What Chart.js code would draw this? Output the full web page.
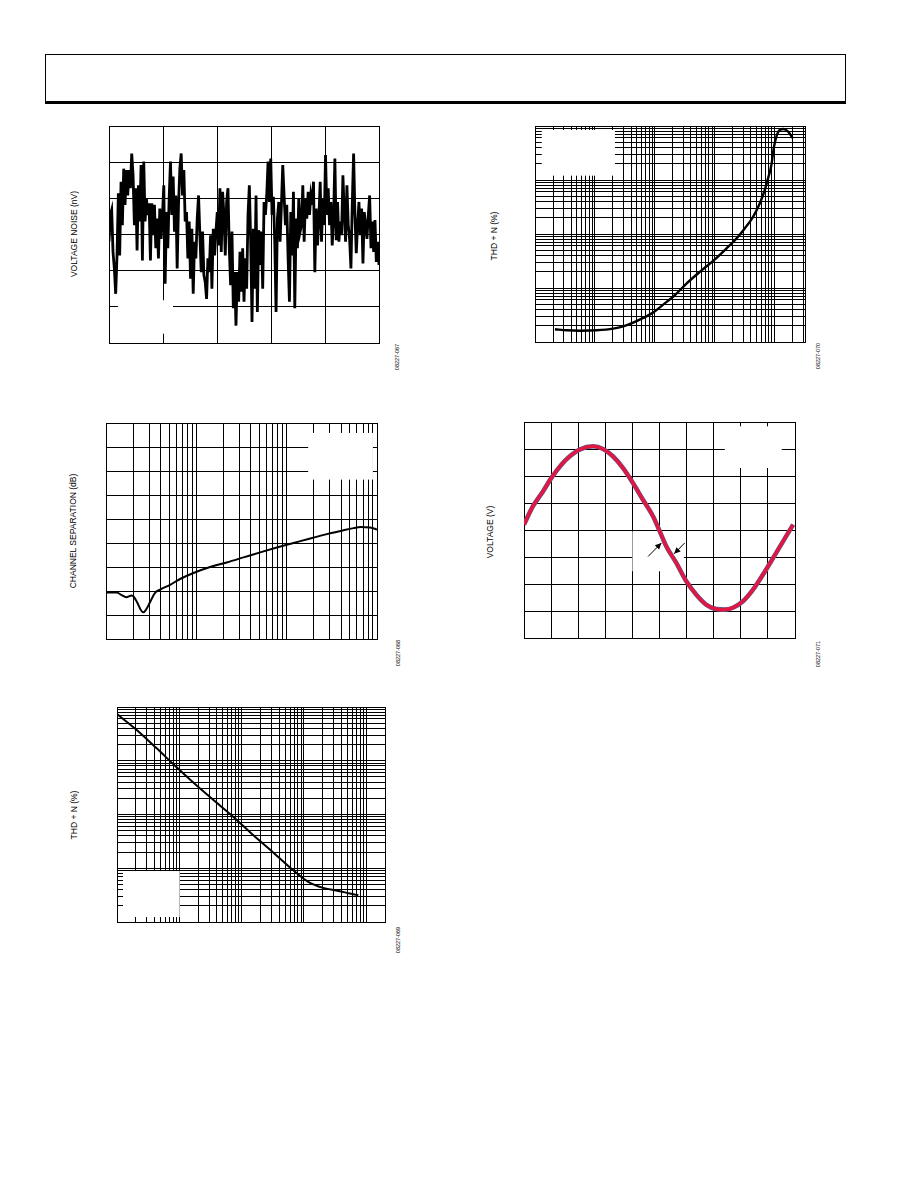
<!DOCTYPE html>
<html>
<head>
<meta charset="utf-8">
<script src="https://cdn.jsdelivr.net/npm/chart.js@4.4.0/dist/chart.umd.min.js"></script>
<style>
  body { margin:0; background:#fff; width:918px; height:1188px; position:relative; overflow:hidden;
         font-family:"Liberation Sans", Arial, sans-serif; color:#000; }
  .hdr { position:absolute; left:45px; top:54px; width:799px; height:46px; border:1px solid #000; border-bottom:3px solid #000; }
  .plot { position:absolute; }
  .ylab { position:absolute; font-size:8.5px; white-space:nowrap; transform:translate(-50%,-50%) rotate(-90deg); }
  .fid { position:absolute; font-size:5.5px; white-space:nowrap; transform:translate(-50%,-50%) rotate(-90deg); }
</style>
</head>
<body>
<div class="hdr"></div>

<canvas id="c1" class="plot"></canvas>
<canvas id="c2" class="plot"></canvas>
<canvas id="c3" class="plot"></canvas>
<canvas id="c4" class="plot"></canvas>
<canvas id="c5" class="plot"></canvas>

<div class="ylab" style="left:74px;top:234px">VOLTAGE NOISE (nV)</div>
<div class="ylab" style="left:494px;top:236px">THD + N (%)</div>
<div class="ylab" style="left:73px;top:531px">CHANNEL SEPARATION (dB)</div>
<div class="ylab" style="left:490px;top:532px">VOLTAGE (V)</div>
<div class="ylab" style="left:74px;top:815px">THD + N (%)</div>

<div class="fid" style="left:397px;top:357px">08227-067</div>
<div class="fid" style="left:818px;top:356px">08227-070</div>
<div class="fid" style="left:398px;top:653px">08227-068</div>
<div class="fid" style="left:818px;top:654px">08227-071</div>
<div class="fid" style="left:398px;top:940px">08227-069</div>

<script>
// ---- data ----

// 0.1 Hz to 10 Hz voltage noise, 10 s trace (nV)
const noiseNv = [-10,27,34,-24,-47,-82,-29,57,-29,73,13,91,41,89,54,89,64,112,82,13,64,-22,68,18,96,-36,101,18,50,27,
  43,-36,43,-1,41,-19,22,-33,36,-6,27,68,-68,31,-19,50,101,27,80,4,54,-47,41,91,112,54,89,18,31,-33,
  18,-61,8,-82,-10,-33,22,54,-1,-52,4,-56,-66,-89,-33,-52,-1,-75,8,-29,4,31,-15,64,-24,59,27,-29,45,64,
  -19,-70,4,-102,-52,-126,-52,-93,-24,-79,-19,-93,-33,-75,27,68,-10,-121,8,-75,54,-107,6,-42,4,-75,45,27,54,101,
  45,105,27,52,-10,-107,22,45,-10,41,96,54,13,41,-33,-93,31,-29,59,-102,22,-19,50,4,13,68,-10,50,22,59,
  27,54,41,73,-52,36,-15,22,73,-10,50,13,110,27,64,13,45,-15,22,105,-8,45,-10,18,-1,82,31,-10,68,13,
  -6,-47,43,112,27,-26,13,45,-1,36,-40,31,13,-6,27,54,-19,18,-24,20,-38,-10,-42];
const noiseSpanS = 10;

// THD+N (%) vs amplitude, top right
const ampX = [0.00215,0.00337,0.00562,0.0107,0.0202,0.0297,0.0435,0.064,0.0938,0.138,0.215,0.337,0.562,0.938,
  1.56,2.30,3.16,4.35,5.62,6.81,7.74,8.80,9.62,10.66,12.1,14.1,16.7,20.2];
const ampThd = [0.00172,0.00165,0.00162,0.00165,0.00177,0.00195,0.00228,0.00279,0.0035,0.00492,0.00734,0.0121,0.0199,0.0318,
  0.0538,0.0826,0.1265,0.208,0.368,0.650,1.07,1.89,3.85,6.34,8.43,8.80,7.85,5.90];

// channel separation (dB) vs frequency (Hz)
const sepHz = [10,13.1,14.9,16.7,19.2,20.4,22.3,24.2,25.9,27.7,30.7,34.9,39.7,51.2,66.1,92.9,142,217,333,509,778,
  1192,1824,2791,4266,5508,6531,8430,10000];
const sepDb = [-120.6,-120.6,-121.7,-122.6,-121.9,-122.5,-125,-127.8,-128.9,-127.8,-124.7,-120.8,-119.4,-117.4,-115,
  -112.5,-110,-108.1,-106,-103.9,-101.9,-100,-98.1,-96.3,-94.7,-93.8,-93.3,-93.5,-94.4];

// output sine (time in divisions, volts)
const sineT = [0,0.33,0.70,1.01,1.38,1.69,2.05,2.55,2.92,3.28,3.65,4.02,4.39,4.76,5.01,5.25,5.62,5.99,6.36,6.73,
  7.10,7.40,7.71,8.08,8.45,8.82,9.19,9.56,9.93];
const sineV = [0.2,0.88,1.43,1.93,2.42,2.73,2.98,3.10,3.0,2.73,2.30,1.74,1.12,0.51,-0.05,-0.60,-1.22,-1.90,-2.40,-2.77,
  -2.93,-2.95,-2.88,-2.64,-2.21,-1.65,-1.04,-0.42,0.20];

// THD+N (%) vs amplitude, bottom left
const lowX = [0.001,0.00205,0.00429,0.00845,0.0166,0.0328,0.0731,0.153,0.321,0.673,1.17,2.04,3.78,5.48,7.46];
const lowThd = [7.40,3.78,1.72,0.815,0.398,0.200,0.0912,0.0414,0.0197,0.0092,0.00558,0.00431,0.00374,0.00338,0.00315];

// ---- helpers ----
function logTicks(min, max) {
  const out = [min];
  for (let e = Math.floor(Math.log10(min)); e <= Math.ceil(Math.log10(max)); e++)
    for (let k = 1; k < 10; k++) {
      const v = k * Math.pow(10, e);
      if (v > min * 1.0001 && v < max * 0.9999) out.push(v);
    }
  out.push(max);
  return out;
}
const gridStyle = { color:'#000', lineWidth:1, drawTicks:false };
const borderStyle = { display:true, color:'#000', width:1 };
function logAxis(min, max) {
  return { type:'logarithmic', min, max,
    afterBuildTicks: a => { a.ticks = logTicks(min, max).map(v => ({ value:v })); },
    ticks:{ display:false, autoSkip:false }, grid:gridStyle, border:borderStyle };
}
function linAxis(min, max, step) {
  return { type:'linear', min, max, ticks:{ display:false, stepSize:step, autoSkip:false }, grid:gridStyle, border:borderStyle };
}
function pts(xs, ys) { return xs.map((x, i) => ({ x, y:ys[i] })); }

// white boxes where the legend text sat (fractions of the plot area) and arrows (data units)
const maskPlugin = {
  id:'mask',
  beforeDatasetsDraw(chart, args, opts) {
    const { ctx, chartArea:a } = chart;
    ctx.save();
    ctx.fillStyle = '#fff';
    (opts.boxes || []).forEach(b => {
      const x0 = a.left + b[0] * a.width, x1 = a.left + b[1] * a.width;
      const y0 = a.top + b[2] * a.height, y1 = a.top + b[3] * a.height;
      ctx.fillRect(x0, y0, x1 - x0, y1 - y0);
    });
    ctx.restore();
  },
  afterDatasetsDraw(chart, args, opts) {
    const { ctx, scales:{ x, y } } = chart;
    ctx.save();
    ctx.strokeStyle = '#000'; ctx.fillStyle = '#000'; ctx.lineWidth = 1;
    (opts.arrows || []).forEach(r => {
      const x0 = x.getPixelForValue(r[0]), y0 = y.getPixelForValue(r[1]);
      const x1 = x.getPixelForValue(r[2]), y1 = y.getPixelForValue(r[3]);
      const ang = Math.atan2(y1 - y0, x1 - x0);
      ctx.beginPath(); ctx.moveTo(x0, y0); ctx.lineTo(x1, y1); ctx.stroke();
      ctx.beginPath();
      ctx.moveTo(x1, y1);
      ctx.lineTo(x1 - 7 * Math.cos(ang - 0.45), y1 - 7 * Math.sin(ang - 0.45));
      ctx.lineTo(x1 - 7 * Math.cos(ang + 0.45), y1 - 7 * Math.sin(ang + 0.45));
      ctx.closePath(); ctx.fill();
    });
    ctx.restore();
  }
};

const PAD = 3;
function makeChart(id, box, datasets, xScale, yScale, mask) {
  const cv = document.getElementById(id);
  cv.style.left = (box[0] - PAD) + 'px';
  cv.style.top = (box[1] - PAD) + 'px';
  cv.width = box[2] - box[0] + 2 * PAD;
  cv.height = box[3] - box[1] + 2 * PAD;
  return new Chart(cv, {
    type:'line',
    data:{ datasets },
    options:{
      responsive:false, animation:false, devicePixelRatio:1,
      layout:{ padding:PAD },
      parsing:false,
      plugins:{ legend:{ display:false }, tooltip:{ enabled:false }, mask:mask || {} },
      scales:{ x:xScale, y:yScale }
    },
    plugins:[maskPlugin]
  });
}
const lineDs = (data, color, width, tension) => ({
  data, borderColor:color, borderWidth:width, pointRadius:0, tension:tension, fill:false,
  cubicInterpolationMode: tension ? 'monotone' : 'default'
});

// 1: voltage noise
makeChart('c1', [109, 126, 379, 343],
  [lineDs(noiseNv.map((v, i) => ({ x:i * noiseSpanS / (noiseNv.length - 1), y:v })), '#000', 2.8, 0)],
  linAxis(0, 10, 2), linAxis(-150, 150, 50),
  { boxes:[[0.033, 0.237, 0.803, 0.957]] });

// 2: THD+N vs amplitude (top right)
makeChart('c2', [535, 126, 805, 342],
  [lineDs(pts(ampX, ampThd), '#000', 2.4, 0.4)],
  logAxis(0.001, 32), logAxis(0.001, 10),
  { boxes:[[0.025, 0.296, 0.0185, 0.23]] });

// 3: channel separation
makeChart('c3', [106, 423, 377, 639],
  [lineDs(pts(sepHz, sepDb), '#000', 2, 0.4)],
  logAxis(10, 10000), linAxis(-140, -50, 10),
  { boxes:[[0.746, 0.985, 0.046, 0.262]] });

// 4: output sine (first dataset is drawn on top)
makeChart('c4', [524, 422, 795, 638],
  [lineDs(pts(sineT, sineV), '#e0173f', 3.6, 0.4), lineDs(pts(sineT, sineV), '#4a64a8', 4.6, 0.4)],
  linAxis(0, 10, 1), linAxis(-4, 4, 1),
  { boxes:[[0.741, 0.951, 0.02, 0.213], [0.40, 0.59, 0.506, 0.691]],
    arrows:[[4.58, -0.98, 5.07, -0.48], [5.93, -0.48, 5.54, -0.88]] });

// 5: THD+N vs amplitude (bottom left)
makeChart('c5', [117, 707, 385, 922],
  [lineDs(pts(lowX, lowThd), '#000', 2, 0.4)],
  logAxis(0.001, 20), logAxis(0.001, 10),
  { boxes:[[0.0224, 0.234, 0.763, 0.977]] });
</script>
</body>
</html>
